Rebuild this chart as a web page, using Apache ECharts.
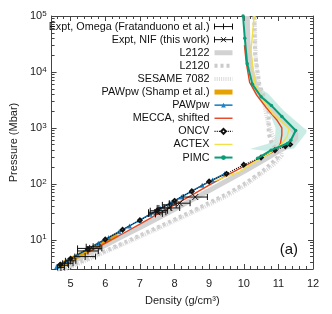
<!DOCTYPE html>
<html><head><meta charset="utf-8">
<script src="https://cdn.jsdelivr.net/npm/echarts@6/dist/echarts.min.js"></script>
<style>html,body{margin:0;padding:0;background:#fff}#c{width:332px;height:314px}</style>
</head><body><div id="c"></div>
<script>
// ---- tick labels ----
const xTicks = [5, 6, 7, 8, 9, 10, 11, 12];
const yTicks = [10, 100, 1000, 10000, 100000];

// ---- experiments: [density, pressure, density error] ----
const omega = [[4.72,3.2,0.10],[4.82,3.5,0.12],[4.92,3.8,0.15],[5.0,4.2,0.15],[5.42,5.0,0.30],[5.5,6.3,0.30],[5.55,7.0,0.35],[5.65,7.5,0.20],[7.45,29,0.20],[7.55,33,0.25],[7.7,37,0.20],[7.85,42,0.20]];
const nif = [[7.5,31,0.25],[7.85,37,0.30],[8.15,45,0.30],[8.6,58,0.35]];

// ---- models: [density, pressure] ----
const l2122 = [[4.6,2.9],[5.0,3.9],[5.5,5.6],[6.0,8.0],[6.5,11.5],[7.0,16.5],[7.5,24],[8.0,35],[8.5,52],[9.0,76],[9.5,112],[10.0,165],[10.5,250],[11.0,380],[11.35,510],[11.5,650],[11.5,800],[11.3,1100],[10.95,1700],[10.6,3000],[10.35,5500],[10.2,12000],[10.12,35000],[10.1,100000]];
const l2120 = [[4.65,2.75],[5.5,4.6],[6.5,8.6],[7.5,16.5],[8.5,32],[9.5,65],[10.0,98],[10.5,160],[10.8,230],[10.98,300],[10.95,400],[10.8,550],[10.72,800],[10.72,1900],[10.6,3300],[10.45,6000],[10.33,20000],[10.3,100000]];
const sesame = [[4.7,2.7],[5.5,4.4],[6.5,8.2],[7.5,15.5],[8.5,30],[9.5,60],[10.0,90],[10.5,150],[10.9,230],[11.1,320],[11.05,450],[10.85,700],[10.7,1200],[10.6,2500],[10.45,5000],[10.35,15000],[10.32,100000]];
const pawShamp = [[4.6,3.2],[5.0,4.4],[5.5,6.4],[6.0,9.4],[6.35,12.3]];
const pawpw = [[4.6,3.33],[4.9,4.24],[5.2,5.37],[5.5,6.82],[5.8,8.65],[6.1,11.0],[6.4,13.9],[6.7,17.7],[7.0,22.4],[7.3,28.5],[7.6,36.1],[7.9,45.9],[8.2,58.2],[8.5,74],[8.8,93.8],[9.1,117],[9.45,151]];
const mecca = [[5.5,6.0],[6.0,8.7],[6.5,12.8],[7.0,19],[7.5,28.5],[8.0,42],[8.5,63],[9.0,95],[9.5,140],[10.0,205],[10.5,290],[10.8,360],[11.0,450],[11.06,530],[11.1,750],[11.1,1000],[10.95,1400],[10.65,2300],[10.38,3800],[10.17,6500],[10.07,15000],[10.02,30000]];
const oncv = [[4.7,3.6],[5.0,4.6],[5.5,6.8],[6.0,10.1],[6.5,15.1],[7.0,22.4],[7.5,33.4],[8.0,49.7],[8.5,74],[9.0,110],[9.5,151],[10.0,219],[10.5,295],[10.9,398],[11.2,468],[11.34,507]];
const actex = [[9.2,115],[9.86,162],[10.28,240],[10.75,350],[11.1,520],[11.25,700],[11.31,950],[11.22,1100],[10.84,1780],[10.56,3100],[10.32,6200],[10.21,24000],[10.3,100000]];
const pimc = [[10.4,285],[10.79,400],[11.26,525],[11.36,600],[11.5,900],[11.1,1600],[10.8,2500],[10.5,3600],[10.25,6000],[10.1,14000],[10.03,40000],[9.98,100000]];
const pimcBand = [[10.3,6000],[10.7,4100],[11.15,2040],[11.55,1250],[11.82,900],[11.8,800],[11.45,430],[11.05,400],[10.6,390],[10.18,420],[10.7,520],[10.9,640],[10.92,1000],[10.8,1500],[10.55,2600],[10.3,4200],[10.2,6000]];

const FONT = 'Liberation Sans, Arial, sans-serif';
const AX = '#444';
const xMinor = [], yMinor = [];
for (let v = 46; v < 120; v += 2) { if (v % 10 !== 0) xMinor.push(v / 10); }
for (let k = 0; k < 5; k++) for (let m = 2; m <= 9; m++) { const v = m * Math.pow(10, k); if (v >= 3 && v <= 100000) yMinor.push(v); }

function xAx(pos, major, label) {
  return {
    type: 'value', min: 4.45, max: 12, position: pos, gridIndex: 0,
    axisLine: { show: major, lineStyle: { color: AX, width: 1 } },
    axisTick: { inside: true, length: major ? 5 : 3, customValues: major ? xTicks : xMinor, lineStyle: { color: AX } },
    axisLabel: { show: label, customValues: xTicks, margin: 9, fontSize: 11, color: '#222', fontFamily: FONT },
    splitLine: { show: false },
    name: label ? 'Density (g/cm³)' : '', nameLocation: 'middle', nameGap: 26,
    nameTextStyle: { fontSize: 11, color: '#222', fontFamily: FONT }
  };
}
function yAx(pos, major, label) {
  return {
    type: 'log', logBase: 10, min: 3, max: 100000, position: pos, gridIndex: 0,
    axisLine: { show: major, lineStyle: { color: AX, width: 1 } },
    axisTick: { inside: true, length: major ? 5 : 3, customValues: major ? yTicks : yMinor, lineStyle: { color: AX } },
    axisLabel: {
      show: label, customValues: yTicks, margin: 5,
      formatter: v => '{b|10}{s|' + Math.round(Math.log10(v)) + '}',
      rich: {
        b: { fontSize: 11, color: '#222', fontFamily: FONT, lineHeight: 13 },
        s: { fontSize: 8, color: '#222', fontFamily: FONT, verticalAlign: 'top', lineHeight: 8 }
      }
    },
    splitLine: { show: false },
    name: label ? 'Pressure (Mbar)' : '', nameLocation: 'middle', nameGap: 24,
    nameTextStyle: { fontSize: 11, color: '#222', fontFamily: FONT }
  };
}

function errBar(marker) {
  return function (params, api) {
    const d = api.value(0), P = api.value(1), e = api.value(2);
    const c = api.coord([d, P]), l = api.coord([d - e, P]), r = api.coord([d + e, P]);
    const st = { stroke: '#111', lineWidth: 1 };
    const ch = [
      { type: 'line', shape: { x1: l[0], y1: c[1], x2: r[0], y2: c[1] }, style: st },
      { type: 'line', shape: { x1: l[0], y1: c[1] - 3, x2: l[0], y2: c[1] + 3 }, style: st },
      { type: 'line', shape: { x1: r[0], y1: c[1] - 3, x2: r[0], y2: c[1] + 3 }, style: st }
    ];
    if (marker === '+') {
      ch.push({ type: 'line', shape: { x1: c[0], y1: c[1] - 3.5, x2: c[0], y2: c[1] + 3.5 }, style: st });
    } else {
      ch.push({ type: 'line', shape: { x1: c[0] - 3, y1: c[1] - 3, x2: c[0] + 3, y2: c[1] + 3 }, style: st });
      ch.push({ type: 'line', shape: { x1: c[0] - 3, y1: c[1] + 3, x2: c[0] + 3, y2: c[1] - 3 }, style: st });
    }
    return { type: 'group', children: ch };
  };
}

function line(name, data, color, width, type, extra) {
  return Object.assign({
    type: 'line', name: name, data: data, xAxisIndex: 0, yAxisIndex: 0,
    symbol: 'none', showSymbol: true, smooth: false, clip: true, silent: true,
    lineStyle: { color: color, width: width, type: type },
    itemStyle: { color: color }
  }, extra || {});
}
const noMark = { opacity: 0 };

const chart = echarts.init(document.getElementById('c'), null, { renderer: 'canvas' });
chart.setOption({
  animation: false,
  backgroundColor: '#fff',
  textStyle: { fontFamily: FONT },
  grid: { left: 45, right: 19, top: 16, bottom: 45 },
  xAxis: [xAx('bottom', true, true), xAx('bottom', false, false), xAx('top', true, false), xAx('top', false, false)],
  yAxis: [yAx('left', true, true), yAx('left', false, false), yAx('right', true, false), yAx('right', false, false)],
  legend: {
    orient: 'vertical', right: 97, top: 20, align: 'right', padding: 0,
    itemWidth: 18, itemHeight: 6, itemGap: 0,
    textStyle: { fontSize: 10.8, color: '#111', fontFamily: FONT, lineHeight: 13.1 },
    data: [
      { name: 'Expt, Omega (Fratanduono et al.)', icon: 'path://M0,0L0,6M0,3L18,3M18,0L18,6M9,0L9,6', itemStyle: { color: 'rgba(0,0,0,0)', borderColor: '#111', borderWidth: 1 } },
      { name: 'Expt, NIF (this work)', icon: 'path://M0,0L0,6M0,3L18,3M18,0L18,6M6.5,0.5L11.5,5.5M6.5,5.5L11.5,0.5', itemStyle: { color: 'rgba(0,0,0,0)', borderColor: '#111', borderWidth: 1 } },
      { name: 'L2122', itemStyle: noMark, lineStyle: { width: 5 } },
      { name: 'L2120', itemStyle: noMark, lineStyle: { width: 4 } },
      { name: 'SESAME 7082', itemStyle: noMark, lineStyle: { width: 4 } },
      { name: 'PAWpw (Shamp et al.)', itemStyle: noMark, lineStyle: { width: 5 } },
      { name: 'PAWpw', lineStyle: { width: 1.6 } },
      { name: 'MECCA, shifted', itemStyle: noMark, lineStyle: { width: 1.4 } },
      { name: 'ONCV', lineStyle: { width: 1.1 } },
      { name: 'ACTEX', itemStyle: noMark, lineStyle: { width: 1.4 } },
      { name: 'PIMC', lineStyle: { width: 2 } }
    ]
  },
  series: [
    {
      type: 'custom', name: 'PIMC band', data: pimcBand, clip: true, silent: true, z: 1,
      renderItem: function (params, api) {
        if (params.dataIndex !== 0) return null;
        const pts = pimcBand.map(p => api.coord(p));
        return { type: 'polygon', shape: { points: pts }, style: { fill: 'rgba(16,170,130,0.22)', stroke: 'none' } };
      }
    },
    line('L2122', l2122, '#d2d2d2', 5, 'solid', { z: 2 }),
    line('L2120', l2120, '#cbcbcb', 4, [3, 3], { z: 2 }),
    line('SESAME 7082', sesame, '#dadada', 4, [1, 1.2], { z: 2 }),
    line('PAWpw (Shamp et al.)', pawShamp, '#e6a200', 5, 'solid', { z: 3 }),
    line('PAWpw', pawpw, '#1f82c6', 1.6, 'solid', { z: 4, symbol: 'triangle', symbolSize: 5 }),
    line('MECCA, shifted', mecca, '#e8411c', 1.4, 'solid', { z: 4 }),
    line('ONCV', oncv, '#111', 1.1, 'dotted', { z: 5, symbol: 'emptyDiamond', symbolSize: 3.5 }),
    line('ACTEX', actex, '#f0e04a', 1.4, 'solid', { z: 5 }),
    line('PIMC', pimc, '#079e77', 2, 'solid', { z: 6, symbol: 'circle', symbolSize: 3.5 }),
    { type: 'custom', name: 'Expt, Omega (Fratanduono et al.)', data: omega, renderItem: errBar('+'), itemStyle: { color: '#111' }, z: 8, silent: true },
    { type: 'custom', name: 'Expt, NIF (this work)', data: nif, renderItem: errBar('x'), itemStyle: { color: '#111' }, z: 8, silent: true }
  ],
  graphic: [
    { type: 'text', right: 34, top: 242, style: { text: '(a)', fontSize: 15, fill: '#111', fontFamily: FONT } }
  ]
});
</script></body></html>
